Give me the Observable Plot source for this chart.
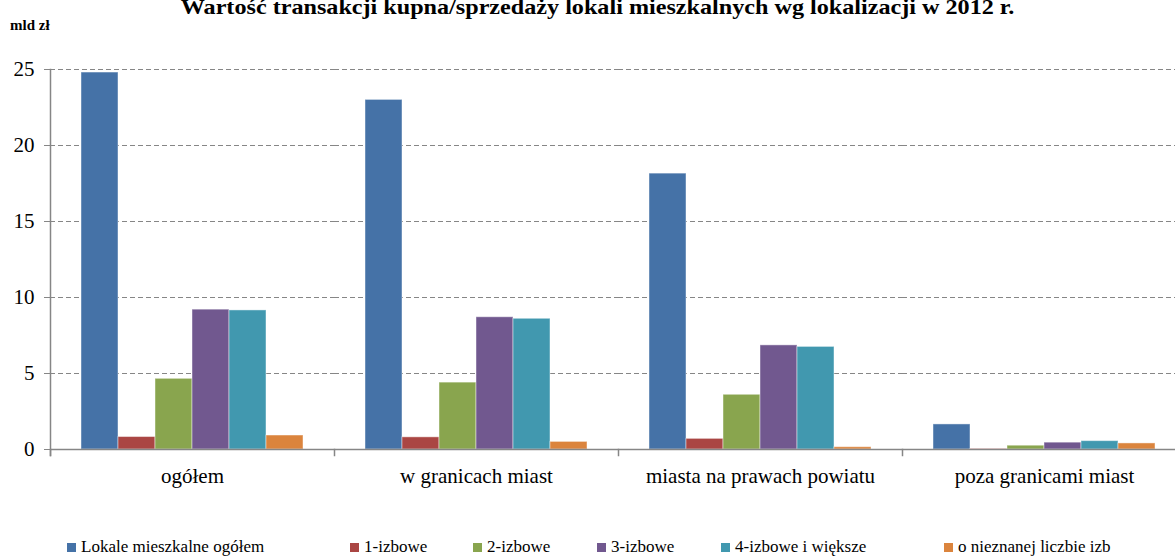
<!DOCTYPE html>
<html>
<head>
<meta charset="utf-8">
<script src="https://cdn.jsdelivr.net/npm/d3@7"></script>
<script src="https://cdn.jsdelivr.net/npm/@observablehq/plot@0.6"></script>
<style>
  html, body { margin: 0; padding: 0; background: #fff; }
  #wrap { position: relative; width: 1175px; height: 558px; overflow: hidden; font-family: "Liberation Serif", "Times New Roman", serif; color: #000; }
  #header { position: relative; height: 40px; }
  #title { position: absolute; top: -5px; left: 10px; width: 1175px; text-align: center; font-weight: bold; font-size: 21px; white-space: nowrap; transform: scaleX(1.15); transform-origin: 587px 0; }
  #unit { position: absolute; top: 17px; left: 10px; font-weight: bold; font-size: 15px; }
  #legend { position: relative; height: 58px; font-size: 17px; line-height: 18px; }
  .item { position: absolute; top: 38px; display: flex; align-items: center; white-space: nowrap; }
  .sw { width: 9px; height: 9px; margin-right: 5px; }
  svg { display: block; }
</style>
</head>
<body>
<div id="wrap">
  <div id="header">
    <div id="title">Wartość transakcji kupna/sprzedaży lokali mieszkalnych wg lokalizacji w 2012 r.</div>
    <div id="unit">mld zł</div>
  </div>
  <div id="chart"></div>
  <div id="legend"></div>
</div>
<script>
const categories = ["ogółem", "w granicach miast", "miasta na prawach powiatu", "poza granicami miast"];
const seriesNames = ["Lokale mieszkalne ogółem", "1-izbowe", "2-izbowe", "3-izbowe", "4-izbowe i większe", "o nieznanej liczbie izb"];
const seriesColors = ["#4572A7", "#AA4643", "#89A54E", "#71588F", "#4198AF", "#DB843D"];
const lokaleOgolem = [24.8, 23.0, 18.15, 1.65];
const izbowe1 = [0.82, 0.8, 0.7, 0.03];
const izbowe2 = [4.65, 4.4, 3.6, 0.25];
const izbowe3 = [9.2, 8.7, 6.85, 0.45];
const izbowe4 = [9.15, 8.6, 6.75, 0.55];
const nieznane = [0.92, 0.5, 0.15, 0.4];
const yTicks = [0, 5, 10, 15, 20, 25];

// legend layout (px offsets of each legend entry)
const legendLeft = [67, 350, 473, 597, 721, 944];

const seriesValues = [lokaleOgolem, izbowe1, izbowe2, izbowe3, izbowe4, nieznane];
const data = [];
categories.forEach((cat, i) => {
  seriesNames.forEach((s, j) => data.push({cat, series: s, value: seriesValues[j][i]}));
});

const H = 460, MT = 29, MB = 51;
const axisGray = "#868686";

const chart = Plot.plot({
  width: 1175,
  height: H,
  marginTop: MT,
  marginBottom: MB,
  marginLeft: 49,
  marginRight: -12,
  style: {fontFamily: "'Liberation Serif', 'Times New Roman', serif", fontSize: "21px", color: "#000", background: "transparent"},
  fx: {domain: categories, padding: 0, label: null},
  x: {domain: seriesNames, paddingInner: 0, paddingOuter: 0.75, axis: null},
  y: {domain: [0, 25], axis: null},
  color: {domain: seriesNames, range: seriesColors},
  marks: [
    Plot.gridY(yTicks.filter(d => d > 0), {stroke: axisGray, strokeOpacity: 1, strokeWidth: 1, strokeDasharray: "5,3"}),
    Plot.barY(data, {fx: "cat", x: "series", y: "value", fill: "series", stroke: "#fff", strokeOpacity: 0.45, strokeWidth: 1}),
    Plot.ruleY([0], {stroke: axisGray, strokeWidth: 1.5}),
    Plot.frame({anchor: "left", facetAnchor: "left", stroke: axisGray, strokeWidth: 1.5, insetBottom: -6}),
    Plot.frame({anchor: "left", stroke: axisGray, strokeWidth: 1.5, insetTop: H - MT - MB, insetBottom: -6}),
    Plot.axisY(yTicks, {anchor: "left", tickSize: 6, tickPadding: 10, stroke: axisGray, fill: "#000", fontSize: 21, label: null}),
    Plot.axisFx({anchor: "bottom", tickSize: 0, tickPadding: 19, fill: "#000", fontSize: 21, label: null})
  ]
});
document.getElementById("chart").appendChild(chart);

const legend = document.getElementById("legend");
seriesNames.forEach((s, j) => {
  const item = document.createElement("div");
  item.className = "item";
  item.style.left = legendLeft[j] + "px";
  const sw = document.createElement("span");
  sw.className = "sw";
  sw.style.background = seriesColors[j];
  const t = document.createElement("span");
  t.textContent = s;
  item.appendChild(sw);
  item.appendChild(t);
  legend.appendChild(item);
});
</script>
</body>
</html>
